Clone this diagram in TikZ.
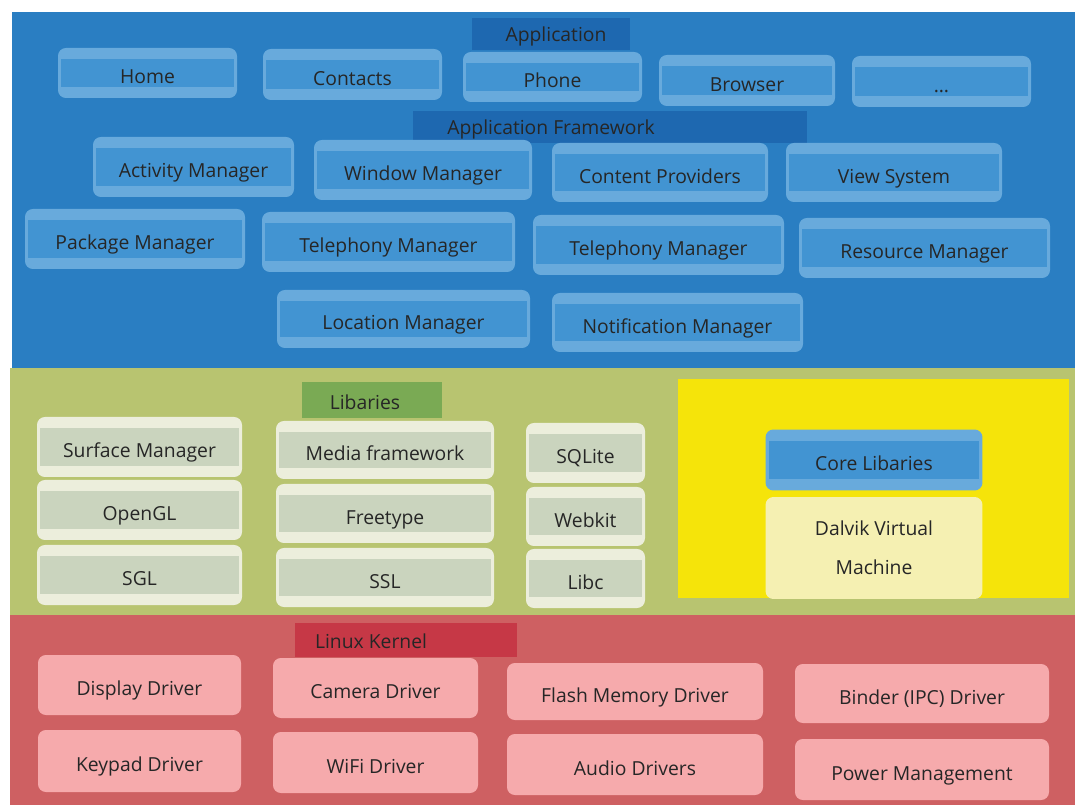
\documentclass[tikz,border=0pt]{standalone}
\usepackage{fontspec}
\setmainfont{Open Sans}
\usepackage{tikz}
\usetikzlibrary{positioning}

\definecolor{appPanel}{RGB}{42,126,194}
\definecolor{appHead}{RGB}{30,104,176}
\definecolor{appOuter}{RGB}{104,170,220}
\definecolor{appBand}{RGB}{66,148,210}
\definecolor{libPanel}{RGB}{184,196,112}
\definecolor{libHead}{RGB}{122,170,84}
\definecolor{libOuter}{RGB}{236,238,220}
\definecolor{libBand}{RGB}{202,212,190}
\definecolor{vmPanel}{RGB}{245,228,10}
\definecolor{vmBox}{RGB}{245,240,178}
\definecolor{krnPanel}{RGB}{206,96,98}
\definecolor{krnHead}{RGB}{198,56,70}
\definecolor{krnBox}{RGB}{246,170,172}

\tikzset{
  layerbox/.style={rounded corners=4.5pt,inner sep=0pt,align=center,
    text height=14pt,text depth=2pt,
    font=\fontsize{11}{13}\selectfont,text=black!85},
  bandbox/.style={layerbox,fill=#1Outer,
    path picture={\fill[#1Band,sharp corners]
      ([xshift=1.8pt,yshift=6.5pt]path picture bounding box.south west) rectangle
      ([xshift=-1.8pt,yshift=-6.5pt]path picture bounding box.north east);}},
  headbar/.style={inner sep=0pt,minimum height=0.64cm},
  headtext/.style={font=\fontsize{11}{13}\selectfont,text=black!85},
}

\begin{document}
\begin{tikzpicture}[x=0.02cm,y=-0.02cm]
\useasboundingbox[fill=white] (0,0) rectangle (1075,810);
% layer panels
\fill[appPanel] (12,12) rectangle (1075,368);
\fill[libPanel] (10,368) rectangle (1075,615);
\fill[vmPanel] (678,379) rectangle (1069,598);
\fill[krnPanel] (10,615) rectangle (1075,805);

% Application
\node[headbar,fill=appHead,minimum width=3.16cm] (hApp) at (551,34) {};
\node[headtext] (tApp) at (556,36) {Application};
\foreach \i/\xa/\ya/\xb/\yb/\lab in {1/58/48/237/98/Home,2/263/49/442/100/Contacts,
  3/463/52/642/102/Phone,4/659/55/835/106/Browser,5/852/56/1031/107/{\ldots}}{
  \node[bandbox=app,minimum width={(\xb-\xa)*0.02cm},minimum height={(\yb-\ya)*0.02cm}]
    (app\i) at ({(\xa+\xb)/2},{(\ya+\yb)/2}) {\lab};
}

% Application Framework
\node[headbar,fill=appHead,minimum width=7.88cm] (hFw) at (610,127) {};
\node[headtext] (tFw) at (551,129) {Application Framework};
\foreach \i/\xa/\ya/\xb/\yb/\lab in {1/93/137/294/197/Activity Manager,2/314/140/532/200/Window Manager,
  3/552/143/768/202/Content Providers,4/786/143/1002/202/View System,
  5/25/209/245/269/Package Manager,6/262/212/515/272/Telephony Manager,
  7/533/215/784/275/Telephony Manager,8/799/218/1050/278/Resource Manager,
  9/277/290/530/348/Location Manager,10/552/293/803/352/Notification Manager}{
  \node[bandbox=app,minimum width={(\xb-\xa)*0.02cm},minimum height={(\yb-\ya)*0.02cm}]
    (fw\i) at ({(\xa+\xb)/2},{(\ya+\yb)/2}) {\lab};
}

% Libaries
\node[headbar,fill=libHead,minimum width=2.82cm,minimum height=0.72cm] (hLib) at (372,400) {};
\node[headtext] (tLib) at (365,402) {Libaries};
\foreach \i/\xa/\ya/\xb/\yb/\lab in {1/37/417/242/477/Surface Manager,2/37/480/242/540/OpenGL,
  3/37/545/242/605/SGL,4/276/421/494/479/Media framework,5/276/484/494/543/Freetype,
  6/276/548/494/607/SSL,7/526/423/645/483/SQLite,8/526/487/645/546/Webkit,9/526/549/645/608/Libc}{
  \node[bandbox=lib,minimum width={(\xb-\xa)*0.02cm},minimum height={(\yb-\ya)*0.02cm}]
    (lib\i) at ({(\xa+\xb)/2},{(\ya+\yb)/2}) {\lab};
}

% Android runtime
\node[bandbox=app,minimum width=4.34cm,minimum height=1.22cm] (core) at (874,460) {Core Libaries};
\node[layerbox,fill=vmBox,minimum width=4.34cm,minimum height=2.04cm,
  text height=,text depth=] (dalvik) at (874,548) {Dalvik Virtual\\[9pt] Machine};

% Linux Kernel
\node[headbar,fill=krnHead,minimum width=4.44cm,minimum height=0.68cm] (hKrn) at (406,640) {};
\node[headtext] (tKrn) at (371,641) {Linux Kernel};
\foreach \i/\xa/\ya/\xb/\yb/\lab in {1/38/655/241/715/Display Driver,2/273/658/478/718/Camera Driver,
  3/507/663/763/720/Flash Memory Driver,4/795/664/1049/723/Binder (IPC) Driver,
  5/38/730/241/792/Keypad Driver,6/273/732/478/793/WiFi Driver,
  7/507/734/763/795/Audio Drivers,8/795/739/1049/800/Power Management}{
  \node[layerbox,fill=krnBox,minimum width={(\xb-\xa)*0.02cm},minimum height={(\yb-\ya)*0.02cm}]
    (drv\i) at ({(\xa+\xb)/2},{(\ya+\yb)/2}) {\lab};
}
\end{tikzpicture}
\end{document}
